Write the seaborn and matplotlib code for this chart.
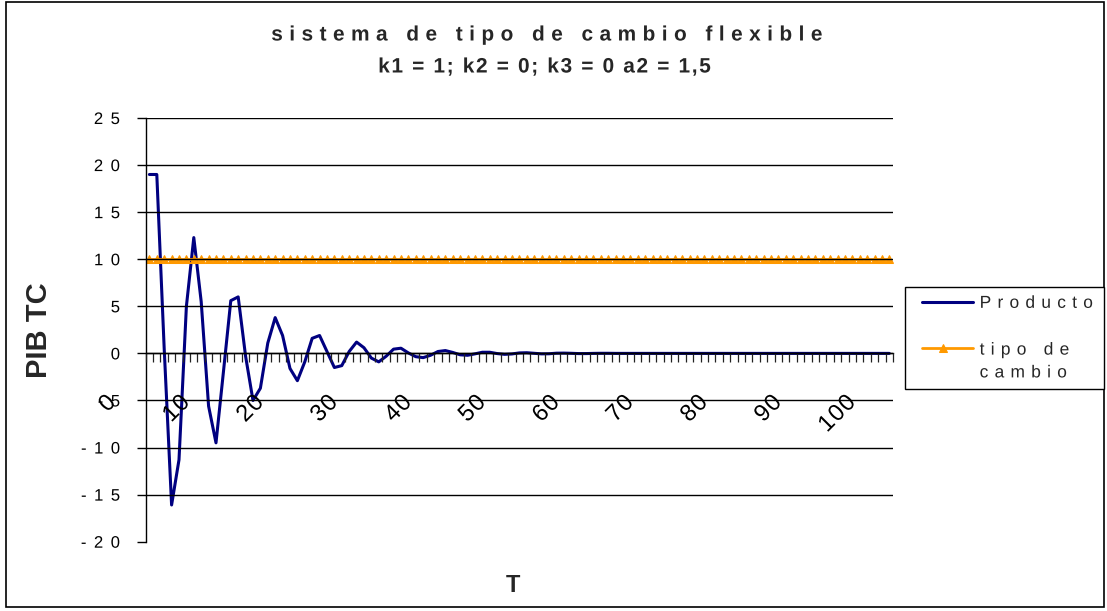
import numpy as np
import pandas as pd
import matplotlib
matplotlib.use("Agg")
import matplotlib.pyplot as plt
import seaborn as sns
from matplotlib.patheffects import AbstractPathEffect
from matplotlib.path import Path
from matplotlib.transforms import ScaledTranslation, Affine2D
from matplotlib.patches import Rectangle
from matplotlib.legend_handler import HandlerLine2D

# ---------------- data ----------------
T = list(range(101))
producto = [19.0, 19.0, 0.5, -16.1, -11.3, 5.0, 12.3, 5.5, -5.6, -9.5,
            -2.0, 5.6, 6.0, -0.3, -5.0, -3.7, 1.1, 3.8, 1.9, -1.6,
            -2.9, -0.9, 1.6, 1.9, 0.2, -1.5, -1.3, 0.2, 1.2, 0.6,
            -0.5, -0.9, -0.3, 0.45, 0.55, 0.05, -0.35, -0.45, -0.2, 0.2,
            0.3, 0.1, -0.15, -0.2, -0.05, 0.12, 0.12, -0.02, -0.1, -0.06,
            0.05, 0.07, 0.01, -0.05, -0.04, 0.02, 0.03, 0.01, -0.02, -0.02,
            0.0, 0.01, 0.01, 0.0, 0.0, 0.0, 0.0, 0.0, 0.0, 0.0,
            0.0, 0.0, 0.0, 0.0, 0.0, 0.0, 0.0, 0.0, 0.0, 0.0,
            0.0, 0.0, 0.0, 0.0, 0.0, 0.0, 0.0, 0.0, 0.0, 0.0,
            0.0, 0.0, 0.0, 0.0, 0.0, 0.0, 0.0, 0.0, 0.0, 0.0,
            0.0]
tipo_de_cambio = [10, 10, 10, 10, 10, 10, 10, 10, 10, 10,
                  10, 10, 10, 10, 10, 10, 10, 10, 10, 10,
                  10, 10, 10, 10, 10, 10, 10, 10, 10, 10,
                  10, 10, 10, 10, 10, 10, 10, 10, 10, 10,
                  10, 10, 10, 10, 10, 10, 10, 10, 10, 10,
                  10, 10, 10, 10, 10, 10, 10, 10, 10, 10,
                  10, 10, 10, 10, 10, 10, 10, 10, 10, 10,
                  10, 10, 10, 10, 10, 10, 10, 10, 10, 10,
                  10, 10, 10, 10, 10, 10, 10, 10, 10, 10,
                  10, 10, 10, 10, 10, 10, 10, 10, 10, 10,
                  10]
series_names = ["Producto", "tipo de\ncambio"]
x_tick_values = [0, 10, 20, 30, 40, 50, 60, 70, 80, 90, 100]
x_tick_labels = ["0", "10", "20", "30", "40", "50", "60", "70", "80", "90", "100"]
y_tick_values = [-20, -15, -10, -5, 0, 5, 10, 15, 20, 25]
y_tick_labels = ["-20", "-15", "-10", "-5", "0", "5", "10", "15", "20", "25"]
title_line1 = "sistema de tipo de cambio flexible"
title_line2 = "k1 = 1; k2 = 0; k3 = 0 a2 = 1,5"
x_label = "T"
y_label = "PIB TC"


# ------------- letter spacing effect (Excel-like tracking) -------------
class Spaced(AbstractPathEffect):
    def __init__(self, gap=0.3, align="center"):
        super().__init__((0.0, 0.0))
        self.gap = gap * 100.0
        self.align = align

    def draw_path(self, renderer, gc, tpath, affine, rgbFace=None):
        codes = tpath.codes
        verts = np.array(tpath.vertices, dtype=float)
        if codes is None or len(verts) == 0:
            renderer.draw_path(gc, tpath, affine, rgbFace)
            return
        codes = np.asarray(codes)
        starts = list(np.where(codes == Path.MOVETO)[0]) + [len(codes)]
        segs = []
        for a, b in zip(starts[:-1], starts[1:]):
            m = codes[a:b] != Path.CLOSEPOLY
            xs = verts[a:b][m, 0]
            if len(xs) == 0:
                continue
            segs.append([a, b, xs.min(), xs.max()])
        if not segs:
            renderer.draw_path(gc, tpath, affine, rgbFace)
            return
        segs.sort(key=lambda s: s[2])
        shifts = np.zeros(len(verts))
        slot = 0
        gmax = None
        for s in segs:
            if gmax is None:
                gmax = s[3]
            elif s[2] < gmax - 1.0:
                gmax = max(gmax, s[3])
            else:
                slot += 2 if (s[2] - gmax) > 22 else 1
                gmax = s[3]
            shifts[s[0]:s[1]] = slot * self.gap
        total = slot * self.gap
        if self.align == "center":
            shifts -= total / 2.0
        elif self.align == "right":
            shifts -= total
        verts[:, 0] += shifts
        renderer.draw_path(gc, Path(verts, codes), affine, rgbFace)


class ShiftedLineHandler(HandlerLine2D):
    """Legend key drawn shorter on the left and moved vertically (pixels)."""
    def __init__(self, dy_px=0.0, trim_pt=0.0, **kw):
        super().__init__(**kw)
        self.dy_px = dy_px
        self.trim_pt = trim_pt

    def create_artists(self, legend, orig_handle, xdescent, ydescent,
                       width, height, fontsize, trans):
        arts = super().create_artists(legend, orig_handle, xdescent, ydescent,
                                      width, height, fontsize, trans)
        line = arts[0]
        xd = np.array(line.get_xdata(), dtype=float)
        xd[0] += self.trim_pt
        line.set_xdata(xd)
        t2 = trans + Affine2D().translate(0, self.dy_px)
        for a in arts:
            a.set_transform(t2)
        return arts


# ---------------- style ----------------
sns.set_style("white")
plt.rcParams["font.family"] = ["Liberation Sans", "DejaVu Sans"]

W, H = 1107, 611
fig = plt.figure(figsize=(W / 100, H / 100), dpi=100)
ax_left, ax_right, ax_top, ax_bottom = 145.7, 893.0, 118.0, 541.7
ax = fig.add_axes([ax_left / W, 1 - ax_bottom / H,
                   (ax_right - ax_left) / W, (ax_bottom - ax_top) / H])

df = pd.DataFrame({"T": T, "Producto": producto, "tipo": tipo_de_cambio})
sns.lineplot(data=df, x="T", y="Producto", ax=ax, color="#000080",
             linewidth=2.2, label=series_names[0])
sns.lineplot(data=df, x="T", y="tipo", ax=ax, color="#FF9900",
             linewidth=2.0, marker="^", markersize=5.5,
             markeredgecolor="#FF9900", markerfacecolor="#FF9900",
             label=series_names[1])
if ax.get_legend() is not None:
    ax.get_legend().remove()

ax.set_xlim(-0.5, len(T) - 0.5)
ax.set_ylim(-20, 25)
ax.set_xlabel("")
ax.set_ylabel("")

for side in ["top", "right"]:
    ax.spines[side].set_visible(False)
ax.spines["left"].set_color("black")
ax.spines["left"].set_linewidth(1.0)
ax.spines["bottom"].set_position(("data", 0))
ax.spines["bottom"].set_color("black")
ax.spines["bottom"].set_linewidth(1.0)

# ticks
ax.tick_params(axis="y", which="major", direction="out", length=6.5,
               width=1.0, color="black", pad=12, labelsize=12,
               left=True, labelcolor="black")
ax.tick_params(axis="x", which="major", length=0, pad=33, labelsize=17,
               bottom=True, labelcolor="black")
ax.tick_params(axis="x", which="minor", direction="out", length=6.5,
               width=0.9, color="#222222", bottom=True)
ax.set_yticks(y_tick_values)
ax.set_yticklabels(y_tick_labels)
ax.set_xticks(x_tick_values)
ax.set_xticklabels(x_tick_labels, rotation=45, ha="right", va="center",
                   rotation_mode="anchor")
ax.set_xticks(np.arange(len(T) + 1) - 0.5, minor=True)

ax.yaxis.grid(True, color="black", linewidth=1.0)
ax.xaxis.grid(False)
ax.set_axisbelow(False)
ax.get_ygridlines()[0].set_visible(False)

offset = ScaledTranslation(-37 / 100, 0, fig.dpi_scale_trans)
for lab in ax.get_xticklabels():
    lab.set_transform(lab.get_transform() + offset)
    lab.set_path_effects([Spaced(0.05, "right")])
for lab in ax.get_yticklabels():
    lab.set_path_effects([Spaced(0.45, "right")])

# axis labels
ax.set_ylabel(y_label, fontsize=21, fontweight="bold")
ax.yaxis.set_label_coords((39 - ax_left) / (ax_right - ax_left),
                          (ax_bottom - 330) / (ax_bottom - ax_top))
ax.yaxis.label.set_va("center")
ax.set_xlabel(x_label, fontsize=17, fontweight="bold")
ax.xaxis.set_label_coords((513 - ax_left) / (ax_right - ax_left),
                          -(585 - ax_bottom) / (ax_bottom - ax_top))
ax.xaxis.label.set_va("center")

# title (two lines)
fig.text(548 / W, 1 - 35 / H, title_line1, ha="center", va="center",
         fontsize=15, fontweight="bold", path_effects=[Spaced(0.31, "center")])
fig.text(545 / W, 1 - 67 / H, title_line2, ha="center", va="center",
         fontsize=15, fontweight="bold", path_effects=[Spaced(0.08, "center")])

# legend
handles, labels = ax.get_legend_handles_labels()
leg = fig.legend(handles, labels, loc="upper left",
                 bbox_to_anchor=(905 / W, 1 - 391 / H, 199 / W, 104 / H),
                 mode="expand", fontsize=12.5, frameon=True, fancybox=False,
                 edgecolor="black", framealpha=1.0, handlelength=3.4,
                 handletextpad=0.4, borderpad=0.5, labelspacing=1.83,
                 borderaxespad=0.0,
                 handler_map={handles[0]: ShiftedLineHandler(0.0, 5.8),
                              handles[1]: ShiftedLineHandler(13.0, 5.8)})
leg.get_frame().set_linewidth(1.0)
for t in leg.get_texts():
    t.set_path_effects([Spaced(0.36, "left")])
    t.set_linespacing(1.65)

# chart border
fig.patches.append(Rectangle((6 / W, 1 - 607 / H), (1104 - 6) / W, (607 - 2) / H,
                             transform=fig.transFigure, fill=False,
                             edgecolor="black", linewidth=1.2))

fig.savefig("out.png", dpi=100)
